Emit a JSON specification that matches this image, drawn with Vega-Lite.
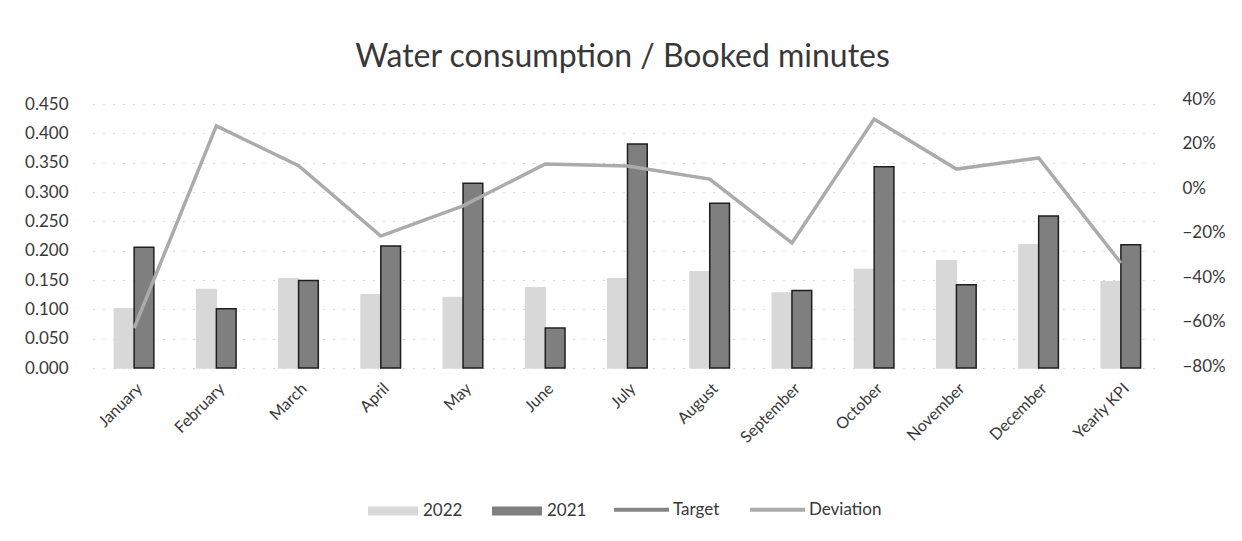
{
  "$schema": "https://vega.github.io/schema/vega-lite/v6.json",
  "width": 1069,
  "height": 264,
  "autosize": "none",
  "padding": {"left": 93, "top": 104, "right": 80, "bottom": 173},
  "background": "white",
  "title": {"text": "Water consumption / Booked minutes", "fontSize": 32, "font": "Lato", "fontWeight": "normal", "color": "#383838", "offset": 16, "anchor": "middle", "dx": -5},
  "config": {"view": {"stroke": null}, "font": "Lato"},
  "data": {"values": [
    {"month": "January", "2022": 0.101, "2021": 0.206, "deviation": -0.63},
    {"month": "February", "2022": 0.134, "2021": 0.101, "deviation": 0.279},
    {"month": "March", "2022": 0.152, "2021": 0.149, "deviation": 0.10},
    {"month": "April", "2022": 0.125, "2021": 0.208, "deviation": -0.216},
    {"month": "May", "2022": 0.120, "2021": 0.315, "deviation": -0.08},
    {"month": "June", "2022": 0.137, "2021": 0.068, "deviation": 0.108},
    {"month": "July", "2022": 0.152, "2021": 0.382, "deviation": 0.099},
    {"month": "August", "2022": 0.164, "2021": 0.281, "deviation": 0.04},
    {"month": "September", "2022": 0.128, "2021": 0.132, "deviation": -0.247},
    {"month": "October", "2022": 0.168, "2021": 0.343, "deviation": 0.31},
    {"month": "November", "2022": 0.183, "2021": 0.142, "deviation": 0.085},
    {"month": "December", "2022": 0.210, "2021": 0.259, "deviation": 0.135},
    {"month": "Yearly KPI", "2022": 0.147, "2021": 0.210, "deviation": -0.337}
  ]},
  "encoding": {
    "x": {
      "field": "month", "type": "nominal", "sort": null,
      "scale": {"paddingInner": 0.52, "paddingOuter": 0.26},
      "axis": {"title": null, "labelAngle": -45, "labelAlign": "right", "labelBaseline": "top", "labelFontSize": 16, "labelColor": "#383838", "labelPadding": 12, "ticks": false, "domain": false}
    }
  },
  "layer": [
    {
      "transform": [{"fold": ["2022", "2021"], "as": ["series", "value"]}],
      "mark": {"type": "bar", "strokeWidth": 1.5},
      "encoding": {
        "xOffset": {"field": "series", "type": "nominal", "sort": ["2022", "2021"]},
        "y": {
          "field": "value", "type": "quantitative",
          "scale": {"domain": [0, 0.45]},
          "axis": {"title": null, "values": [0, 0.05, 0.1, 0.15, 0.2, 0.25, 0.3, 0.35, 0.4, 0.45], "format": ".3f", "labelFontSize": 17, "labelColor": "#383838", "labelPadding": 25, "ticks": false, "domain": false, "gridColor": "#b0b0b0", "gridDash": [1, 9], "gridWidth": 1}
        },
        "fill": {
          "field": "series", "type": "nominal",
          "scale": {"domain": ["2022", "2021"], "range": ["#d8d8d8", "#7f7f7f"]},
          "legend": {"title": null, "orient": "none", "direction": "horizontal", "legendX": 275, "legendY": 382, "symbolType": "M-1,-0.18H1V0.18H-1Z", "symbolSize": 2500, "symbolStrokeWidth": 0, "labelFontSize": 17, "labelColor": "#383838", "labelOffset": 5, "columnPadding": 29}
        },
        "stroke": {
          "field": "series", "type": "nominal",
          "scale": {"domain": ["2022", "2021"], "range": ["#d8d8d8", "#1e1e1e"]},
          "legend": null
        }
      }
    },
    {
      "mark": {"type": "line", "strokeWidth": 3.5},
      "encoding": {
        "y": {
          "field": "deviation", "type": "quantitative",
          "scale": {"domain": [-0.8, 0.4], "range": [262, -5]},
          "axis": {"title": null, "orient": "right", "values": [-0.8, -0.6, -0.4, -0.2, 0, 0.2, 0.4], "format": ".0%", "labelFontSize": 17, "labelColor": "#383838", "labelPadding": 20, "ticks": false, "domain": false, "grid": false}
        },
        "stroke": {
          "datum": "Deviation", "type": "nominal",
          "scale": {"domain": ["Target", "Deviation"], "range": ["#858585", "#ababab"]},
          "legend": {"title": null, "orient": "none", "direction": "horizontal", "legendX": 519, "legendY": 376, "symbolType": "stroke", "symbolSize": 3025, "symbolStrokeWidth": 4, "labelFontSize": 17, "labelColor": "#383838", "labelOffset": 2, "columnPadding": 22}
        }
      }
    }
  ],
  "resolve": {"scale": {"y": "independent", "stroke": "independent"}}
}
